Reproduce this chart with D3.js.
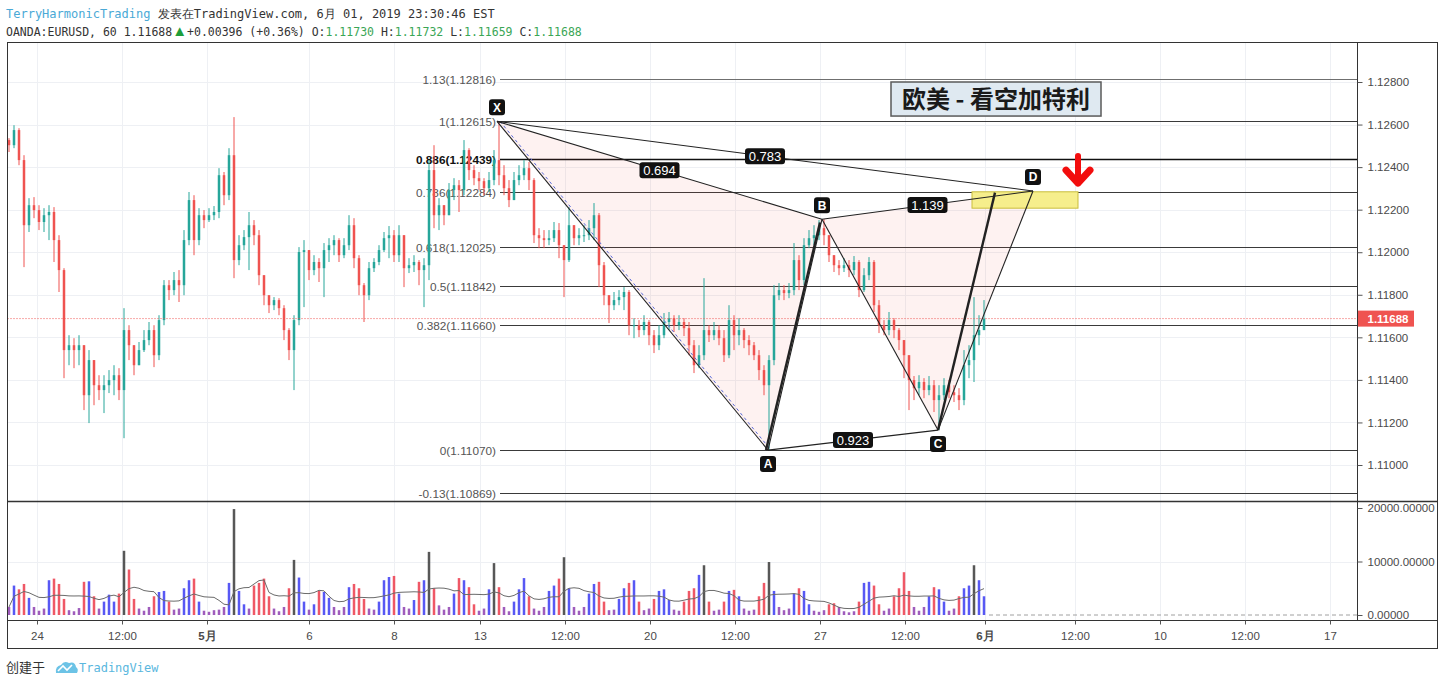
<!DOCTYPE html>
<html><head><meta charset="utf-8">
<script src="https://cdn.jsdelivr.net/npm/d3@7"></script>
<style>body{margin:0;background:#fff;}svg{display:block;}</style>
</head><body><svg id="c" width="1444" height="685"></svg>
<script>
// ---------- DATA ----------
const firstOpen = 1.12527;
const closes = [
1.12503,1.12574,1.12433,1.12127,1.12221,1.12198,1.12142,1.12174,1.12189,1.12057,
1.11916,1.11540,1.11563,1.11540,1.11563,1.11328,1.11493,1.11375,1.11352,1.11375,
1.11399,1.11422,1.11352,1.11634,1.11563,1.11469,1.11540,1.11587,1.11634,1.11516,
1.11681,1.11845,1.11822,1.11869,1.11845,1.12057,1.12245,1.12057,1.12174,1.12151,
1.12174,1.12189,1.12362,1.12268,1.12456,1.11963,1.12033,1.12071,1.12127,1.12080,
1.11892,1.11798,1.11751,1.11775,1.11737,1.11634,1.11540,1.11681,1.12001,1.12010,
1.11916,1.11954,1.11925,1.12010,1.12033,1.12057,1.11986,1.12033,1.12127,1.11972,
1.11845,1.11798,1.11925,1.11954,1.12010,1.12066,1.12080,1.11986,1.12080,1.11925,
1.11939,1.11954,1.11916,1.11939,1.12386,1.12174,1.12221,1.12174,1.12292,1.12315,
1.12292,1.12480,1.12386,1.12348,1.12334,1.12301,1.12339,1.12433,1.12362,1.12301,
1.12245,1.12339,1.12362,1.12395,1.12339,1.12080,1.12066,1.12057,1.12066,1.12104,
1.12033,1.11963,1.12127,1.12066,1.12080,1.12080,1.12113,1.12174,1.11939,1.11798,
1.11751,1.11775,1.11789,1.11813,1.11657,1.11657,1.11634,1.11672,1.11610,1.11563,
1.11610,1.11672,1.11690,1.11657,1.11672,1.11643,1.11563,1.11469,1.11516,1.11634,
1.11610,1.11634,1.11596,1.11516,1.11681,1.11610,1.11634,1.11587,1.11563,1.11516,
1.11446,1.11375,1.11493,1.11798,1.11822,1.11808,1.11822,1.11963,1.11869,1.12033,
1.12066,1.12080,1.12113,1.12080,1.11986,1.11939,1.11925,1.11939,1.11916,1.11954,
1.11822,1.11892,1.11954,1.11751,1.11657,1.11634,1.11681,1.11634,1.11587,1.11516,
1.11399,1.11361,1.11390,1.11352,1.11375,1.11305,1.11328,1.11375,1.11342,1.11328,
1.11305,1.11469,1.11493,1.11610,1.11634,1.11688];
const highs = [
1.12536,1.12597,1.12583,1.12456,1.12254,1.12259,1.12221,1.12207,1.12221,1.12212,
1.12080,1.11925,1.11610,1.11596,1.11610,1.11563,1.11540,1.11484,1.11422,1.11422,
1.11446,1.11469,1.11455,1.11737,1.11657,1.11563,1.11578,1.11634,1.11672,1.11657,
1.11704,1.11869,1.11869,1.11907,1.11916,1.12104,1.12283,1.12268,1.12207,1.12198,
1.12207,1.12217,1.12395,1.12377,1.12489,1.12635,1.12080,1.12104,1.12189,1.12151,
1.12104,1.11855,1.11798,1.11789,1.11784,1.11751,1.11643,1.11704,1.12024,1.12057,
1.11986,1.11986,1.11972,1.12043,1.12066,1.12080,1.12066,1.12066,1.12174,1.12160,
1.11986,1.11855,1.11954,1.11972,1.12033,1.12095,1.12123,1.12104,1.12127,1.12057,
1.11972,1.11986,1.11963,1.11972,1.12433,1.12503,1.12254,1.12221,1.12325,1.12348,
1.12339,1.12527,1.12489,1.12409,1.12377,1.12348,1.12377,1.12480,1.12615,1.12409,
1.12339,1.12377,1.12409,1.12433,1.12424,1.12348,1.12113,1.12104,1.12104,1.12142,
1.12137,1.12033,1.12212,1.12113,1.12113,1.12127,1.12151,1.12231,1.12184,1.11954,
1.11798,1.11813,1.11822,1.11836,1.11822,1.11690,1.11681,1.11704,1.11681,1.11634,
1.11657,1.11714,1.11719,1.11704,1.11704,1.11690,1.11672,1.11587,1.11563,1.11878,
1.11657,1.11672,1.11657,1.11634,1.11751,1.11704,1.11690,1.11643,1.11610,1.11578,
1.11540,1.11469,1.11516,1.11845,1.11855,1.11845,1.11855,1.12043,1.11986,1.12066,
1.12104,1.12127,1.12151,1.12155,1.12080,1.11986,1.11963,1.11972,1.11963,1.11982,
1.11963,1.11925,1.11977,1.11963,1.11775,1.11681,1.11719,1.11690,1.11643,1.11587,
1.11516,1.11418,1.11422,1.11408,1.11418,1.11399,1.11375,1.11408,1.11399,1.11375,
1.11361,1.11540,1.11563,1.11789,1.11704,1.11775];
const lows = [
1.12471,1.12489,1.12409,1.11930,1.12095,1.12160,1.12104,1.12095,1.12057,1.11954,
1.11813,1.11408,1.11469,1.11455,1.11469,1.11258,1.11197,1.11281,1.11305,1.11244,
1.11338,1.11328,1.11305,1.11126,1.11493,1.11422,1.11484,1.11531,1.11563,1.11460,
1.11493,1.11657,1.11775,1.11798,1.11766,1.11798,1.12033,1.11986,1.12033,1.12113,
1.12142,1.12151,1.12160,1.12221,1.12245,1.11878,1.11939,1.12010,1.11916,1.12033,
1.11845,1.11751,1.11714,1.11728,1.11704,1.11587,1.11493,1.11352,1.11657,1.11742,
1.11869,1.11892,1.11860,1.11789,1.11954,1.11986,1.11954,1.11972,1.12010,1.11925,
1.11798,1.11672,1.11775,1.11907,1.11939,1.12001,1.11972,1.11954,1.11954,1.11836,
1.11902,1.11907,1.11845,1.11742,1.11869,1.12113,1.12104,1.12127,1.12174,1.12245,
1.12189,1.12268,1.12339,1.12315,1.12292,1.12268,1.12283,1.12315,1.12315,1.12268,
1.12212,1.12245,1.12315,1.12339,1.12292,1.12043,1.12019,1.12019,1.12033,1.12048,
1.11972,1.11789,1.11954,1.12033,1.12033,1.12048,1.12057,1.12057,1.11836,1.11751,
1.11667,1.11728,1.11751,1.11728,1.11610,1.11596,1.11601,1.11610,1.11563,1.11526,
1.11540,1.11596,1.11634,1.11625,1.11634,1.11606,1.11516,1.11432,1.11455,1.11493,
1.11578,1.11587,1.11563,1.11484,1.11502,1.11540,1.11563,1.11549,1.11516,1.11493,
1.11399,1.11328,1.11070,1.11469,1.11775,1.11775,1.11784,1.11798,1.11822,1.11845,
1.12019,1.12033,1.12057,1.12033,1.11954,1.11907,1.11892,1.11907,1.11883,1.11892,
1.11789,1.11813,1.11869,1.11719,1.11620,1.11610,1.11610,1.11596,1.11540,1.11408,
1.11258,1.11305,1.11328,1.11314,1.11328,1.11249,1.11164,1.11305,1.11314,1.11296,
1.11258,1.11281,1.11408,1.11390,1.11563,1.11634];
const volumes = [
1500,5500,4800,5800,3200,1500,800,1200,6500,6800,
5800,3000,900,700,1300,6200,6300,3500,1200,2500,
3800,2500,4000,12000,8500,3000,1200,800,1500,3500,
4300,4500,2500,1000,1200,5000,6500,6800,2500,800,
600,900,1000,1500,6000,19800,4500,2000,1200,5500,
6000,6800,3500,1200,700,1500,5000,10300,7000,2500,
1000,2000,4500,4300,3200,1500,900,1500,5200,5800,
5000,3000,1200,1000,2500,6500,7100,7300,4000,1500,
1200,2800,6200,6500,11800,5000,1800,1000,1500,4000,
6900,6500,5200,2000,800,1200,4800,9700,5200,1500,
700,2500,4800,6900,3500,1200,800,1500,4500,5500,
6800,10800,5000,1500,800,1500,4000,5800,6200,2500,
900,1000,3000,5000,6000,6500,2500,900,1200,3000,
4500,4800,2800,1000,800,2500,4500,5000,7500,9300,
2500,800,1000,2500,4500,4700,3500,1200,800,1000,
3500,6000,9900,4500,1500,900,1200,4000,5000,4500,
2000,800,600,900,2000,2200,1500,700,500,700,
2500,6000,6200,5500,2000,800,1200,3500,5000,8000,
4500,1500,800,1500,3500,5200,4800,2500,800,1200,
3500,5000,5500,9300,6500,3500];
const priceTicks = [1.110,1.112,1.114,1.116,1.118,1.120,1.122,1.124,1.126,1.128];
const volTicks = [0,10000,20000];
const timeTickIdx = [5.6,22.6,39.6,60,77,94.2,111.2,128.2,145.2,162.2,179.2,195.2,213.2,230.2,247.2,264.2];
const timeTickLabels = ["24","12:00","5月","6","8","13","12:00","20","12:00","27","12:00","6月","12:00","10","12:00","17"];
const boldTimeLabels = ["5月","6月"];
const fibRatios = ["1.13","1","0.886","0.786","0.618","0.5","0.382","0","-0.13"];
const fibPrices = [1.12816,1.12615,1.12439,1.12284,1.12025,1.11842,1.11660,1.11070,1.10869];
const pointNames = ["X","A","B","C","D"];
const pointIdx = [97.6,151.8,162.6,185.8,204.8];
const pointPrices = [1.12615,1.11070,1.12155,1.11164,1.12288];
const ratioFrom = [0,0,2,1];
const ratioTo = [2,4,4,3];
const ratioText = ["0.694","0.783","1.139","0.923"];
const lastPrice = 1.11688;
const titleText = "欧美 - 看空加特利";
const header1a = "TerryHarmonicTrading";
const header1b = " 发表在TradingView.com, 6月 01, 2019 23:30:46 EST";
const volMAWindow = 7;

// ---------- LAYOUT ----------
const svg = d3.select("#c");
const L = 7.5, R = 1357.5, RR = 1437.5, T = 42.5, PB = 501.5, VB = 620.5, B = 648.5;
const x = d3.scaleLinear().domain([0, 269.8]).range([9, 1358]);
const y = d3.scaleLinear().domain([1.110, 1.128]).range([465, 82]);
const yv = d3.scaleLinear().domain([0, 20000]).range([615, 508]);
const sans = "'Liberation Sans', Arial, sans-serif";
const mono = "'DejaVu Sans Mono', monospace";

svg.append("rect").attr("width",1444).attr("height",685).attr("fill","#fff");

const defs = svg.append("defs");
defs.append("clipPath").attr("id","pclip").append("rect").attr("x",L).attr("y",T).attr("width",R-L).attr("height",PB-T);
defs.append("clipPath").attr("id","vclip").append("rect").attr("x",L).attr("y",PB).attr("width",R-L).attr("height",VB-PB);

// grid
const grid = svg.append("g").attr("stroke","#eef0f4").attr("stroke-width",1);
priceTicks.forEach(p=>grid.append("line").attr("x1",L).attr("x2",R).attr("y1",Math.round(y(p))+0.5).attr("y2",Math.round(y(p))+0.5));
timeTickIdx.forEach(t=>{
  const xx = Math.round(x(t))+0.5;
  grid.append("line").attr("x1",xx).attr("x2",xx).attr("y1",T).attr("y2",PB);
  grid.append("line").attr("x1",xx).attr("x2",xx).attr("y1",PB).attr("y2",VB);
});
grid.append("line").attr("x1",L).attr("x2",R).attr("y1",Math.round(yv(10000))+0.5).attr("y2",Math.round(yv(10000))+0.5);

// fib levels
const fibG = svg.append("g").attr("clip-path","url(#pclip)");
const fibX0 = x(pointIdx[0]) + 3;
fibPrices.forEach((p,i)=>{
  const yy = Math.round(y(p))+0.5;
  const isKey = fibRatios[i]==="0.886";
  fibG.append("line").attr("x1",fibX0).attr("x2",R).attr("y1",yy).attr("y2",yy)
    .attr("stroke", fibRatios[i]==="1.13" ? "#6f6f6f" : (isKey ? "#111" : "#3a3a3a"))
    .attr("stroke-width", isKey ? 1.6 : 1);
  fibG.append("text").attr("x",fibX0-4).attr("y",yy).attr("dy","0.36em")
    .attr("text-anchor","end").attr("font-family",sans).attr("font-size",11.8)
    .attr("font-weight", isKey ? "bold" : "normal")
    .attr("fill", isKey ? "#111" : "#555")
    .text(fibRatios[i]+"("+fibPrices[i].toFixed(5)+")");
});

// pattern fill triangles
const P = pointNames.map((n,i)=>[x(pointIdx[i]), y(pointPrices[i])]);
const patG = svg.append("g").attr("clip-path","url(#pclip)");
patG.append("path").attr("d", d3.line()([P[0],P[1],P[2]])+"Z").attr("fill","rgba(239,83,80,0.08)");
patG.append("path").attr("d", d3.line()([P[2],P[3],P[4]])+"Z").attr("fill","rgba(239,83,80,0.08)");

// yellow target box
const boxI0 = 192.6, boxI1 = 213.8, boxP0 = 1.12284, boxP1 = 1.12207;
patG.append("rect").attr("x",x(boxI0)).attr("y",y(boxP0)).attr("width",x(boxI1)-x(boxI0)).attr("height",y(boxP1)-y(boxP0))
  .attr("fill","#f6ee8c").attr("stroke","#c9bd3c").attr("stroke-width",1);

// candles
const opens = closes.map((c,i)=> i===0 ? firstOpen : closes[i-1]);
const candleG = svg.append("g").attr("clip-path","url(#pclip)");
closes.forEach((c,i)=>{
  const o = opens[i], up = c >= o;
  const col = up ? "#26a69a" : "#ef5350";
  const cx = x(i);
  const hi = Math.max(highs[i], o, c), lo = Math.min(lows[i], o, c);
  candleG.append("line").attr("x1",cx).attr("x2",cx).attr("y1",y(hi)).attr("y2",y(lo)).attr("stroke",col).attr("stroke-width",1);
  const yt = y(Math.max(o,c)), yb = y(Math.min(o,c));
  candleG.append("rect").attr("x",cx-1.25).attr("y",yt).attr("width",2.5).attr("height",Math.max(1,yb-yt)).attr("fill",col);
});

// current price dotted line
svg.append("line").attr("x1",L).attr("x2",R).attr("y1",y(lastPrice)).attr("y2",y(lastPrice))
  .attr("stroke","#ef5350").attr("stroke-width",1).attr("stroke-dasharray","1,2");

// pattern lines
const lineG = svg.append("g").attr("clip-path","url(#pclip)");
const seg = (a,b,w,c,dash)=>{ const l = lineG.append("line").attr("x1",a[0]).attr("y1",a[1]).attr("x2",b[0]).attr("y2",b[1]).attr("stroke",c||"#222").attr("stroke-width",w); if(dash) l.attr("stroke-dasharray",dash); return l; };
seg(P[0],P[1],1,"#5a6bd8","3,3").attr("transform","translate(3,0)");
[[0,1],[1,2],[2,3],[3,4],[0,2],[0,4],[2,4],[1,3]].forEach(([a,b])=>seg(P[a],P[b],1.1,"#222"));
// thick trend lines
const tl1a=[x(151.4),y(1.11070)], tl1b=[x(162.2),y(1.12140)];
const tl2a=[x(185.8),y(1.11164)], tl2b=[x(197.2),y(1.12280)];
seg(tl1a,tl1b,2.4,"#222"); seg(tl2a,tl2b,2.4,"#222");

// ratio labels
ratioFrom.forEach((a,i)=>{
  const b = ratioTo[i];
  const mx = (P[a][0]+P[b][0])/2, my = (P[a][1]+P[b][1])/2;
  const g = lineG.append("g").attr("transform",`translate(${mx},${my})`);
  g.append("rect").attr("x",-20).attr("y",-8).attr("width",40).attr("height",16).attr("rx",3).attr("fill","#111");
  g.append("text").attr("text-anchor","middle").attr("dy","0.36em").attr("font-family",sans).attr("font-size",13)
    .attr("fill","#fff").text(ratioText[i]);
});
// point labels
const above = [true,false,true,false,true];
pointNames.forEach((n,i)=>{
  const g = svg.append("g").attr("transform",`translate(${P[i][0]},${P[i][1] + (above[i]?-14:14)})`);
  g.append("rect").attr("x",-8).attr("y",-8).attr("width",16).attr("height",16).attr("rx",3).attr("fill","#111");
  g.append("text").attr("text-anchor","middle").attr("dy","0.36em").attr("font-family",sans).attr("font-size",12)
    .attr("font-weight","bold").attr("fill","#fff").text(n);
});

// red arrow
const ax = x(213.8), ay = y(1.12447);
svg.append("path").attr("d",`M${ax},${ay-1} L${ax},${ay+26}`).attr("stroke","#f20d0d").attr("stroke-width",6).attr("stroke-linecap","round");
svg.append("path").attr("d",`M${ax-12},${ay+13} L${ax},${ay+26} L${ax+12},${ay+13}`).attr("fill","none")
  .attr("stroke","#f20d0d").attr("stroke-width",7).attr("stroke-linecap","round").attr("stroke-linejoin","round");

// title box
const tx0 = x(176.4), tx1 = x(218.4), ty0 = y(1.12800), ty1 = y(1.12640);
svg.append("rect").attr("x",tx0).attr("y",ty0).attr("width",tx1-tx0).attr("height",ty1-ty0)
  .attr("fill","#dfe9f1").attr("stroke","#5a5a5a").attr("stroke-width",1.5);
svg.append("text").attr("x",(tx0+tx1)/2).attr("y",(ty0+ty1)/2).attr("dy","0.36em").attr("text-anchor","middle")
  .attr("font-family","'Noto Sans CJK SC', sans-serif").attr("font-weight","bold").attr("font-size",24).attr("fill","#1a1a1a")
  .text(titleText);

// volume bars
const volG = svg.append("g").attr("clip-path","url(#vclip)");
volumes.forEach((v,i)=>{
  if (i >= closes.length) return;
  const up = closes[i] >= opens[i];
  let col = v >= 9000 ? "#3a3a3a" : (v < 2000 ? "#8e3fb0" : (up ? "#3b3bf2" : "#ec3b4b"));
  volG.append("rect").attr("x",x(i)-1.25).attr("y",yv(v)).attr("width",2.5).attr("height",yv(0)-yv(v))
    .attr("fill",col).attr("opacity",0.85);
});
const ma = volumes.map((v,i)=>{ const s = volumes.slice(Math.max(0,i-volMAWindow+1), i+1); return d3.mean(s); });
volG.append("path").attr("d", d3.line().x((d,i)=>x(i)).y(d=>yv(d))(ma)).attr("fill","none").attr("stroke","#6a6a6a").attr("stroke-width",1);
svg.append("line").attr("x1",x(volumes.length)).attr("x2",R).attr("y1",yv(0)).attr("y2",yv(0)).attr("stroke","#a0a0a0").attr("stroke-dasharray","4,3");

// frame
const fr = svg.append("g").attr("stroke","#333").attr("fill","none");
fr.append("rect").attr("x",L).attr("y",T).attr("width",RR-L).attr("height",B-T).attr("stroke-width",1);
fr.append("line").attr("x1",R).attr("x2",R).attr("y1",T).attr("y2",VB);
fr.append("line").attr("x1",L).attr("x2",RR).attr("y1",PB).attr("y2",PB).attr("stroke-width",1.5);
fr.append("line").attr("x1",L).attr("x2",RR).attr("y1",VB).attr("y2",VB);

// price axis
const pa = svg.append("g").attr("transform",`translate(${R},0)`)
  .call(d3.axisRight(y).tickValues(priceTicks).tickFormat(d3.format(".5f")).tickSize(5));
pa.select(".domain").remove();
pa.selectAll("line").attr("stroke","#555");
pa.selectAll("text").attr("font-family",sans).attr("font-size",11.5).attr("fill","#4a4a4a").attr("x",10);
// volume axis
const va = svg.append("g").attr("transform",`translate(${R},0)`)
  .call(d3.axisRight(yv).tickValues(volTicks).tickFormat(d3.format(".5f")).tickSize(5));
va.select(".domain").remove();
va.selectAll("line").attr("stroke","#555");
va.selectAll("text").attr("font-family",sans).attr("font-size",11.5).attr("fill","#4a4a4a").attr("x",10);
// last price label
const ly = y(lastPrice);
svg.append("rect").attr("x",R+0.5).attr("y",ly-8).attr("width",56).attr("height",16).attr("fill","#ef5350");
svg.append("text").attr("x",R+10).attr("y",ly).attr("dy","0.36em").attr("font-family",sans).attr("font-size",11.5)
  .attr("font-weight","bold").attr("fill","#fff").text(lastPrice.toFixed(5));

// time axis
const ta = svg.append("g").attr("transform",`translate(0,${VB})`)
  .call(d3.axisBottom(x).tickValues(timeTickIdx).tickFormat((d,i)=>timeTickLabels[i]).tickSize(4));
ta.select(".domain").remove();
ta.selectAll("line").attr("stroke","#555");
ta.selectAll("text").attr("font-family",sans).attr("font-size",11.5).attr("fill","#4a4a4a").attr("dy","1.1em")
  .attr("font-weight",function(){ return boldTimeLabels.includes(this.textContent) ? "bold" : "normal"; });

// header
const h1 = svg.append("text").attr("x",6).attr("y",18).attr("font-family",mono).attr("font-size",12);
h1.append("tspan").attr("fill","#4aa9d6").text(header1a);
h1.append("tspan").attr("fill","#333").text(header1b);
const h2 = svg.append("text").attr("x",6).attr("y",36).attr("font-family",mono).attr("font-size",11.5).attr("fill","#333");
const green = "#3aa655";
h2.append("tspan").text("OANDA:EURUSD, 60 "+lastPrice.toFixed(5));
h2.append("tspan").attr("fill","#1e9e3a").attr("font-size",15).attr("font-family",sans).text("▲");
h2.append("tspan").attr("font-size",11.5).text("+0.00396 (+0.36%) O:");
h2.append("tspan").attr("fill",green).text("1.11730");
h2.append("tspan").text(" H:");
h2.append("tspan").attr("fill",green).text("1.11732");
h2.append("tspan").text(" L:");
h2.append("tspan").attr("fill",green).text("1.11659");
h2.append("tspan").text(" C:");
h2.append("tspan").attr("fill",green).text("1.11688");

// footer
svg.append("text").attr("x",6).attr("y",672).attr("font-family","'Noto Sans CJK SC', sans-serif").attr("font-size",13).attr("fill","#333").text("创建于");
const lg = svg.append("g").attr("transform","translate(55,660)");
lg.append("path").attr("d","M1,13 Q0,6 6,5 Q9,0 14,3 Q20,1 21,7 Q24,9 22,13 Z").attr("fill","#6cc3e6");
lg.append("path").attr("d","M3,11 L8,6 L12,10 L17,5").attr("fill","none").attr("stroke","#fff").attr("stroke-width",1.6);
svg.append("text").attr("x",79).attr("y",672).attr("font-family",mono).attr("font-size",12).attr("fill","#5ab7de").text("TradingView");
</script></body></html>
